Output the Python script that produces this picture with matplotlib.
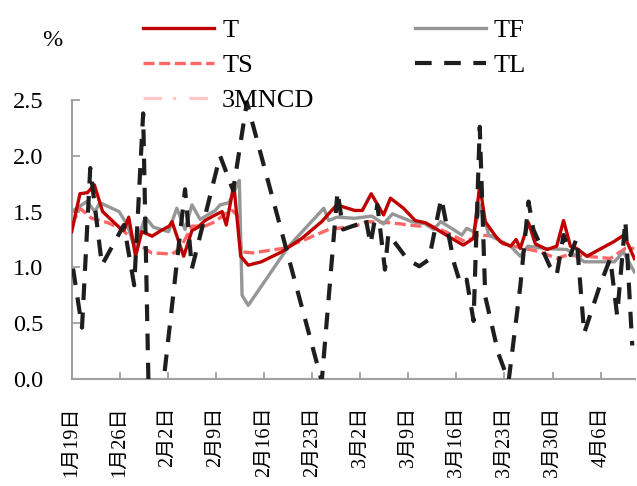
import matplotlib
matplotlib.use("Agg")
import matplotlib.pyplot as plt

# ---------------- data (x = days since 1月19日) ----------------
tick_days = [0, 7, 14, 21, 28, 35, 42, 49, 56, 63, 70, 77]
tick_labels = ["1月19日", "1月26日", "2月2日", "2月9日", "2月16日", "2月23日",
               "3月2日", "3月9日", "3月16日", "3月23日", "3月30日", "4月6日"]

t_days = [0, 1.2, 2.3, 3.3, 4.5, 6.9, 7.6, 8.3, 9.3, 10.2, 11.7, 13.0, 14.2, 14.6,
          16.3, 17.5, 18.4, 19.4, 20.9, 21.9, 22.5, 23.6, 24.6, 25.7, 27.6, 30.6,
          33.5, 36.4, 37.4, 38.6, 41.2, 42.3, 43.6, 45.4, 46.4, 48.3, 50.0, 51.5,
          52.9, 55.3, 57.0, 58.5, 59.4, 60.2, 61.7, 62.4, 63.9, 64.7, 65.3, 66.5,
          67.5, 69.2, 70.6, 71.6, 72.6, 73.5, 75.0, 78.9, 80.4, 81.9]
t_vals = [1.32, 1.66, 1.67, 1.74, 1.50, 1.36, 1.33, 1.45, 1.10, 1.32, 1.28, 1.33, 1.37, 1.41,
          1.10, 1.33, 1.36, 1.42, 1.47, 1.50, 1.38, 1.74, 1.10, 1.02, 1.05, 1.14,
          1.26, 1.41, 1.48, 1.56, 1.51, 1.51, 1.66, 1.47, 1.62, 1.53, 1.42, 1.40,
          1.35, 1.26, 1.20, 1.26, 1.74, 1.41, 1.28, 1.23, 1.19, 1.25, 1.17, 1.40,
          1.21, 1.16, 1.19, 1.42, 1.19, 1.17, 1.10, 1.23, 1.29, 1.08]

tf_days = [0, 2.2, 3.4, 4.1, 6.9, 8.1, 9.2, 10.7, 11.9, 14.1, 15.3, 16.5, 17.5, 18.7,
           20.9, 21.6, 22.9, 24.4, 24.8, 25.7, 27.7, 31.6, 36.7, 37.4, 38.6, 41.2,
           43.7, 45.4, 46.7, 49.5, 51.5, 52.7, 53.7, 55.3, 56.8, 57.5, 58.5, 59.6,
           60.7, 61.7, 63.9, 65.3, 66.4, 68.8, 72.1, 74.6, 79.0, 80.3, 81.9]
tf_vals = [1.50, 1.59, 1.50, 1.58, 1.50, 1.38, 1.17, 1.45, 1.36, 1.32, 1.53, 1.34, 1.56, 1.43,
           1.51, 1.56, 1.58, 1.78, 0.75, 0.66, 0.84, 1.19, 1.53, 1.42, 1.45, 1.44,
           1.46, 1.39, 1.48, 1.41, 1.39, 1.34, 1.41, 1.35, 1.29, 1.35, 1.32, 1.56,
           1.29, 1.26, 1.19, 1.10, 1.19, 1.17, 1.16, 1.05, 1.05, 1.14, 0.96]

ts_days = [0, 1.2, 2.9, 5.3, 7.3, 9.2, 11.6, 14.6, 15.8, 17.5, 19.4, 20.9, 22.3, 23.4,
           24.2, 24.7, 26.3, 30.7, 34.0, 37.4, 41.2, 43.0, 46.4, 50.5, 52.0, 54.4,
           57.3, 59.2, 61.7, 62.8, 65.9, 68.2, 70.6, 72.1, 75.0, 78.4, 80.6, 81.9]
ts_vals = [1.38, 1.53, 1.44, 1.40, 1.34, 1.23, 1.13, 1.12, 1.17, 1.37, 1.37, 1.41, 1.48, 1.51,
           1.46, 1.14, 1.13, 1.17, 1.25, 1.34, 1.37, 1.41, 1.40, 1.37, 1.38, 1.32,
           1.23, 1.29, 1.28, 1.21, 1.17, 1.14, 1.08, 1.11, 1.10, 1.08, 1.17, 1.17]

tl_days = [0.2, 1.5, 2.7, 4.4, 7.6, 9.1, 10.4, 11.5, 16.5, 17.5, 21.6, 23.5, 25.5,
           36.4, 38.7, 39.5, 41.8, 42.8, 43.5, 44.5, 45.6, 46.1, 48.9, 50.6, 52.0,
           53.8, 55.7, 56.6, 57.5, 58.5, 59.4, 60.2, 62.1, 63.6, 65.3, 66.5, 67.2,
           69.6, 70.6, 71.6, 72.6, 73.5, 74.6, 76.9, 78.4, 79.4, 80.6, 81.6]
tl_vals = [0.99, 0.46, 1.89, 1.02, 1.38, 0.84, 2.38, -1.05, 1.70, 0.99, 2.00, 1.69, 2.48,
           -0.02, 1.68, 1.34, 1.39, 1.44, 1.21, 1.56, 0.98, 1.30, 1.07, 1.01, 1.07,
           1.62, 1.03, 0.85, 0.89, 0.52, 2.26, 0.74, 0.23, -0.02, 0.83, 1.59, 1.34,
           1.01, 0.93, 1.29, 1.11, 1.26, 0.41, 0.84, 1.08, 0.57, 1.42, 0.30]

mncd_days = []
mncd_vals = []

# ---------------- figure ----------------
W, H = 637, 486
fig = plt.figure(figsize=(W / 100, H / 100), dpi=100)
ax = fig.add_axes([71.7 / W, 1 - 379 / H, (635 - 71.7) / W, (379 - 100) / H])

serif = ["Liberation Serif", "Noto Sans CJK SC"]
c_T, c_TF, c_TS, c_TL, c_M = "#C00000", "#969696", "#FF6666", "#1E1E1E", "#FFC7C7"

ax.plot(t_days, t_vals, color=c_T, lw=2.4, label="T", zorder=4)
ax.plot(tf_days, tf_vals, color=c_TF, lw=2.4, label="TF", zorder=3)
ax.plot(ts_days, ts_vals, color=c_TS, lw=2.4, linestyle=(0, (3.3, 1.4)), label="TS", zorder=2)
ax.plot(tl_days, tl_vals, color=c_TL, lw=3.0, linestyle=(0, (4.0, 3.0)), label="TL", zorder=5)
ax.plot(mncd_days, mncd_vals, color=c_M, lw=2.4, linestyle=(0, (5.5, 3.3, 1.0, 4.0)), label="3MNCD")

ax.set_xlim(0, 82.0)
ax.set_ylim(0, 2.5)
ax.set_yticks([0, 0.5, 1.0, 1.5, 2.0, 2.5])
ax.set_yticklabels(["0.0", "0.5", "1.0", "1.5", "2.0", "2.5"])
ax.set_xticks(tick_days)
ax.set_xticklabels(tick_labels, rotation=90)

for s in ["top", "right"]:
    ax.spines[s].set_visible(False)
for s in ["left", "bottom"]:
    ax.spines[s].set_color("#A0A0A0")
    ax.spines[s].set_linewidth(1.5)

ax.tick_params(axis="y", direction="in", length=6, width=1.3, color="#A0A0A0", pad=20.5)
ax.tick_params(axis="x", direction="in", length=5, width=1.3, color="#A0A0A0", pad=20)
for lab in ax.get_yticklabels():
    lab.set_family(serif)
    lab.set_fontsize(17.5)
    lab.set_color("black")
for lab in ax.get_xticklabels():
    lab.set_family(serif)
    lab.set_fontsize(14.5)
    lab.set_color("black")

fig.text(52 / W, 1 - 41 / H, "%", family=serif, fontsize=17.5, ha="center", va="center")

# legend (two columns, column-wise fill)
h = {ln.get_label(): ln for ln in ax.get_lines()}
order = ["T", "TS", "3MNCD", "TF", "TL"]
leg = fig.legend([h[k] for k in order], order, loc="upper left",
                 bbox_to_anchor=(143 / W, 1 - 19 / H), ncol=2, frameon=False,
                 prop={"family": serif, "size": 19}, handlelength=2.7,
                 handletextpad=0.3, columnspacing=3.8, labelspacing=0.43,
                 borderpad=0, borderaxespad=0)

fig.savefig("out.png", dpi=100)
